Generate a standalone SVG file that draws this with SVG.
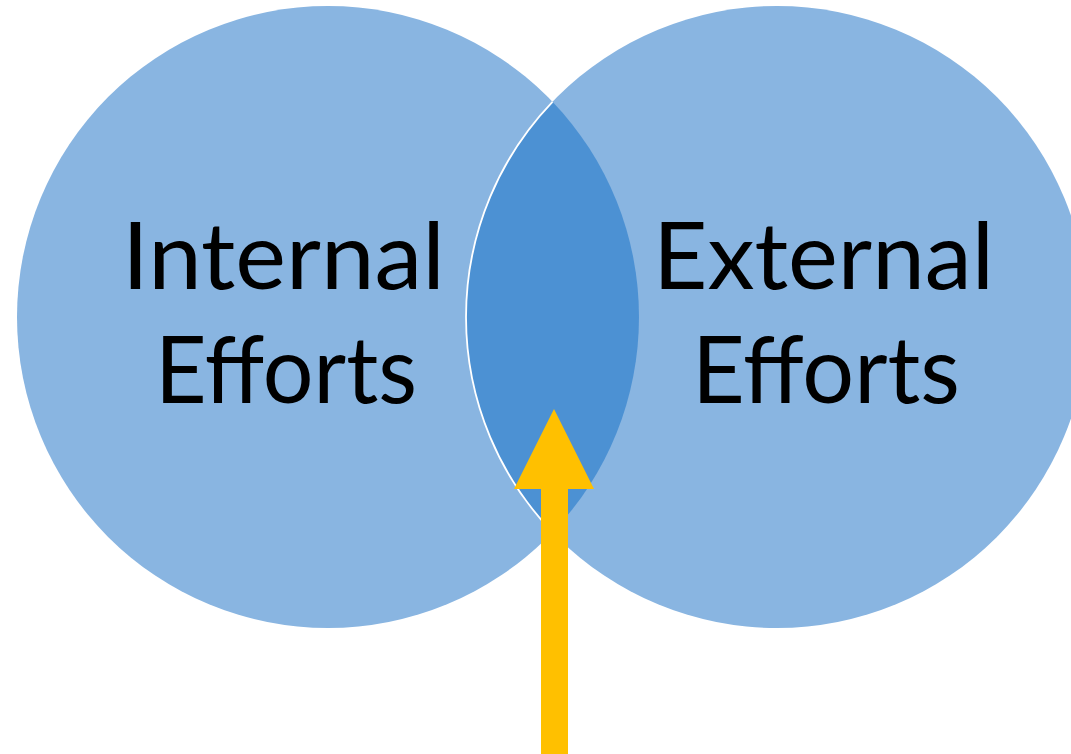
<svg xmlns="http://www.w3.org/2000/svg" width="1071" height="754" viewBox="0 0 1071 754">
  <style>
    .circle { fill: #89b5e1; }
    .overlap { fill: #4c91d3; }
    .edge { fill: none; stroke: #ffffff; stroke-width: 1.8; }
    .label { font-family: Lato, "Open Sans", "Liberation Sans", sans-serif; font-size: 94px; fill: #000000; }
    .pointer { fill: #ffc000; }
  </style>
  <rect width="1071" height="754" fill="#ffffff"/>

  <g id="internal">
    <circle class="circle" cx="328" cy="317" r="311"/>
  </g>
  <g id="external">
    <circle class="circle" cx="777" cy="317" r="311"/>
  </g>
  <g id="overlap">
    <path class="overlap" d="M552.5,101.8 A311,311 0 0 1 552.5,532.2 A311,311 0 0 1 552.5,101.8 Z"/>
    <path class="edge" d="M552.5,532.2 A311,311 0 0 1 552.5,101.8"/>
  </g>

  <g id="internal-label">
    <text class="label" x="122" y="289" textLength="323" lengthAdjust="spacingAndGlyphs">Internal</text>
    <text class="label" x="155" y="403" textLength="262" lengthAdjust="spacingAndGlyphs">Efforts</text>
  </g>
  <g id="external-label">
    <text class="label" x="653" y="289" textLength="341" lengthAdjust="spacingAndGlyphs">External</text>
    <text class="label" x="692" y="403" textLength="268" lengthAdjust="spacingAndGlyphs">Efforts</text>
  </g>

  <g id="connectors">
    <polygon class="pointer" points="554,409 594,489 568,489 568,754 541,754 541,489 514,489"/>
  </g>
</svg>
